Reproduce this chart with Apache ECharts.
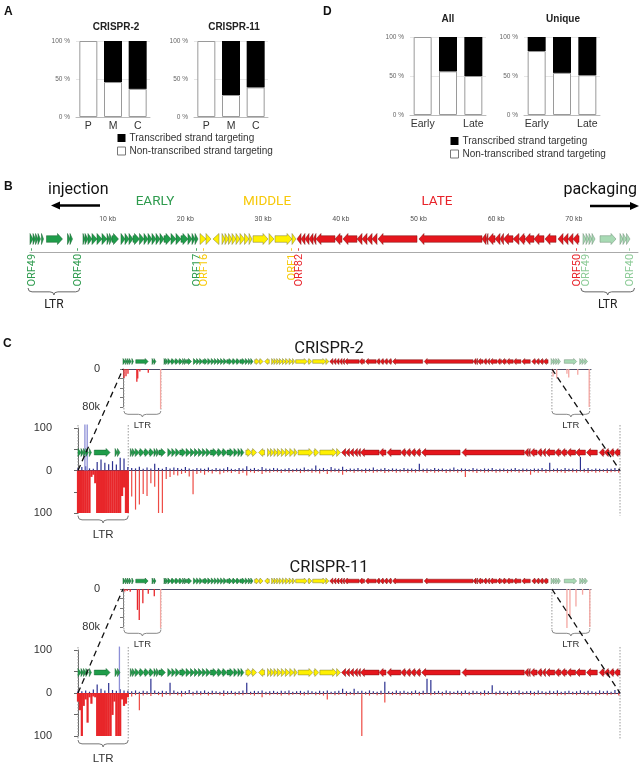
<!DOCTYPE html>
<html><head><meta charset="utf-8">
<script src="https://cdn.jsdelivr.net/npm/echarts@6/dist/echarts.min.js"></script>
<style>html,body{margin:0;padding:0;background:#fff}#c{width:642px;height:765px}</style>
</head><body><div id="c"></div>
<script>
// ---------------- DATA ----------------
const catA = ['P', 'M', 'C'];
const crispr2Non = [100, 46, 37];
const crispr2Trans = [0, 54, 63];
const crispr11Non = [100, 29, 39];
const crispr11Trans = [0, 71, 61];
const catD = ['Early', 'Middle', 'Late'];
const allNon = [100, 56, 50];
const allTrans = [0, 44, 50];
const uniqueNon = [82, 54, 51];
const uniqueTrans = [18, 46, 49];

// genes: [start kb, end kb, strand, class]  E=early M=middle L=late R=right LTR copy
const genes = [
[0.00,0.39,1,'E'],[0.39,0.71,1,'E'],[0.71,1.03,1,'E'],[1.03,1.35,1,'E'],[1.48,1.74,1,'E'],[2.12,4.18,1,'E'],[4.83,5.15,1,'E'],[5.15,5.47,1,'E'],
[6.82,7.08,1,'E'],[7.08,7.46,1,'E'],[7.46,7.98,1,'E'],[7.98,8.62,1,'E'],[8.62,9.27,1,'E'],[9.27,9.91,1,'E'],[9.91,10.23,1,'E'],[10.23,10.55,1,'E'],
[10.55,11.39,1,'E'],[11.71,12.23,1,'E'],[12.23,12.74,1,'E'],[12.74,13.26,1,'E'],[13.26,14.09,1,'E'],[14.09,14.67,1,'E'],[14.67,15.19,1,'E'],
[15.19,15.70,1,'E'],[15.70,16.22,1,'E'],[16.22,16.73,1,'E'],[16.73,17.25,1,'E'],[17.25,18.15,1,'E'],[18.15,18.79,1,'E'],[18.79,19.43,1,'E'],
[19.43,20.33,1,'E'],[20.33,20.85,1,'E'],[20.85,21.24,1,'E'],[21.24,21.62,1,'E'],
[21.88,22.65,1,'M'],[22.65,23.29,1,'M'],[23.55,24.32,-1,'M'],[24.71,25.10,1,'M'],[25.10,25.55,1,'M'],[25.55,26.00,1,'M'],[26.00,26.51,1,'M'],
[26.51,27.03,1,'M'],[27.03,27.61,1,'M'],[27.61,28.19,1,'M'],[28.19,28.57,1,'M'],[28.70,30.63,1,'M'],[30.76,31.40,1,'M'],[31.53,33.72,1,'M'],[33.72,34.23,1,'M'],
[34.36,34.88,-1,'L'],[34.88,35.39,-1,'L'],[35.39,35.91,-1,'L'],[35.91,36.42,-1,'L'],[36.42,36.81,-1,'L'],[36.81,39.25,-1,'L'],[39.25,40.15,-1,'L'],
[40.28,42.08,-1,'L'],[42.08,42.73,-1,'L'],[42.73,43.37,-1,'L'],[43.37,44.02,-1,'L'],[44.02,44.66,-1,'L'],[44.79,49.81,-1,'L'],[50.06,58.17,-1,'L'],
[58.17,58.69,-1,'L'],[58.69,58.94,-1,'L'],[58.94,59.85,-1,'L'],[59.85,60.49,-1,'L'],[60.49,60.94,-1,'L'],[60.94,62.16,-1,'L'],[62.16,62.93,-1,'L'],
[62.93,63.71,-1,'L'],[63.71,64.86,-1,'L'],[64.86,66.15,-1,'L'],[66.28,67.70,-1,'L'],[67.95,68.60,-1,'L'],[68.60,69.24,-1,'L'],[69.24,69.88,-1,'L'],[69.88,70.66,-1,'L'],
[71.17,71.56,1,'R'],[71.56,71.94,1,'R'],[71.94,72.33,1,'R'],[72.33,72.72,1,'R'],[73.36,75.42,1,'R'],[75.93,76.32,1,'R'],[76.32,76.77,1,'R'],[76.77,77.22,1,'R']
];
const orfLabels = [[0.25,'ORF49','E'],[6.2,'ORF40','E'],[21.5,'ORF17','E'],[22.4,'ORF16','M'],[33.8,'ORF1','M'],[34.7,'ORF82','L'],[70.4,'ORF50','L'],[71.6,'ORF49','R'],[77.2,'ORF40','R']];
const kbTicks = 10;

// coverage, 0.5 kb bins from 0 kb (main plots)
const c2Blue = [6,8,10,5,4,20,26,18,15,22,14,30,28,8,
6,5,9,4,7,5,16,6,4,8,5,7,6,4,8,5,3,6,
5,4,7,3,6,4,5,8,4,3,6,5,10,4,6,3,8,5,4,6,
5,3,4,6,3,5,4,7,3,5,12,4,6,3,8,5,4,9,3,5,
4,6,3,5,4,7,3,4,6,3,5,4,3,6,4,5,3,16,4,5,
3,6,4,5,3,4,7,3,5,4,3,6,4,3,5,4,6,3,4,5,
3,4,6,3,5,4,3,5,4,6,3,18,4,5,3,6,4,5,3,32,
4,6,3,5,4,3,5,4,6,3];
const c2Red = [0,0,0,0,0,0,0,0,0,0,0,0,0,0,
-61,-92,-80,-55,-60,-30,-38,-100,-100,-20,-15,-10,-12,-8,-6,-14,-56,-8,
-5,-10,-4,-7,-3,-9,-5,-4,-6,-3,-8,-5,-12,-4,-6,-3,-8,-4,-5,-3,
-4,-6,-3,-5,-4,-3,-6,-4,-3,-5,-4,-7,-3,-8,-4,-3,-5,-10,-4,-3,
-5,-3,-4,-6,-3,-5,-4,-3,-6,-4,-3,-5,-4,-3,-6,-4,-5,-3,-4,-6,
-3,-5,-4,-3,-6,-4,-3,-5,-4,-15,-3,-4,-6,-3,-5,-4,-3,-5,-4,-3,
-6,-4,-3,-5,-4,-3,-10,-4,-5,-3,-6,-4,-3,-5,-4,-6,-3,-4,-5,-3,
-4,-6,-3,-5,-4,-3,-6,-4,-3,-5];
// LTR region, 0.25 kb bins from 0 kb
const c2RedLtr = [-100,-100,-100,-100,-100,-100,-100,-15,-10,-30,-100,-100,-100,-100,-100,-100,-100,-100,-100,-100,-100,-100,-100,-60,-40,-100,-100];
const c2BluePeaks = [[0.9,108],[1.2,108]];
const c11Blue = [5,4,6,3,8,20,10,6,23,7,5,9,6,5,
4,6,3,5,4,33,6,3,5,4,24,6,3,5,4,7,3,5,
4,6,3,5,4,3,6,4,5,3,4,6,24,3,5,4,6,3,4,5,
3,5,4,6,3,4,5,3,6,4,3,5,4,6,3,4,5,10,4,3,
10,4,5,3,6,4,3,5,26,4,3,6,4,5,3,4,6,3,5,33,
30,4,5,3,6,4,3,5,4,6,3,5,4,3,6,4,18,3,5,4,
3,5,4,6,3,4,5,3,6,4,3,5,4,6,3,4,5,3,4,6,
3,5,4,3,6,4,5,3,7,4];
const c11Red = [0,0,0,0,0,0,0,0,0,0,0,0,0,0,
-8,-5,-40,-6,-4,-7,-3,-5,-9,-4,-6,-3,-5,-8,-4,-3,-6,-4,
-5,-3,-6,-4,-3,-5,-7,-4,-3,-6,-4,-5,-3,-4,-6,-3,-10,-4,-5,-3,
-4,-6,-3,-5,-4,-3,-5,-6,-4,-3,-5,-4,-6,-15,-3,-5,-4,-3,-6,-4,
-5,-3,-100,-4,-6,-3,-5,-4,-22,-3,-5,-4,-6,-3,-4,-5,-3,-6,-4,-3,
-5,-4,-3,-6,-4,-5,-3,-4,-6,-3,-5,-4,-3,-5,-6,-4,-3,-5,-4,-3,
-6,-4,-3,-5,-4,-3,-5,-6,-4,-3,-5,-4,-3,-6,-4,-5,-3,-4,-5,-3,
-4,-5,-3,-6,-4,-3,-5,-4,-3,-6];
const c11RedLtr = [-20,-40,-100,-30,-15,-69,-10,-25,-8,-10,-100,-100,-100,-100,-100,-100,-100,-100,-51,-20,-100,-100,-100,-15,-30,-25,-10];
const c11BluePeaks = [[5.4,108]];
// insets: [kb, reads in thousands]
const c2InsetLeft = [[0.17,19],[0.5,15],[0.83,10],[2.3,27],[2.45,20],[2.8,5],[4.2,8]];
const c2InsetPale = [[6.25,84],[71.5,16],[72.1,20],[73.8,10],[74.1,18],[75.6,12],[77.5,80]];
const c11InsetLeft = [[0.3,5],[0.7,4],[1.2,6],[2.4,44],[2.7,65],[3.3,30],[4.2,10],[5.2,15]];
const c11InsetPale = [[6.25,82],[73.8,82],[74.3,58],[75.3,37],[76.4,12],[77.6,80]];

const kbB = 78.25, kbMain = 70.66, kbInset = 77.8;
const ltrMain = [0, 6.55], ltrInsetL = [0.15, 6.3], ltrInsetR = [71.3, 77.6], ltrBL = [-0.25, 6.4], ltrBR = [70.9, 77.8];

// ---------------- CHART ----------------
const FS = 'Liberation Sans, Arial, sans-serif';
const FR = 'Roboto, sans-serif';
const geneFill = {E:'#1f9d4a', M:'#fff000', L:'#e5161d', R:'#a8dab4'};
const geneStroke = {E:'#15632f', M:'#7a7a40', L:'#7d1414', R:'#6f8f76'};
const textCol = {E:'#2e9b4e', M:'#f7c90a', L:'#e8232a', R:'#8ccb97'};

const chart = echarts.init(document.getElementById('c'), null, {width:642, height:765});

const grids = [
  {left:76, top:41, width:74, height:76},
  {left:194, top:41, width:74, height:76},
  {left:410, top:37, width:76, height:78},
  {left:524, top:37, width:76, height:78},
  {left:30, top:226, width:608, height:26},
  {left:123, top:369, width:468, height:38},
  {left:78, top:428, width:542, height:85},
  {left:123, top:589, width:468, height:38},
  {left:78, top:650, width:542, height:86}
];

const catAxis = (i, cats) => ({gridIndex:i, type:'category', data:cats, axisLine:{lineStyle:{color:'#bbb'}}, axisTick:{show:false},
  axisLabel:{fontSize:10.5, color:'#333', margin:4, fontFamily:FS}});
const pctAxis = i => ({gridIndex:i, type:'value', min:0, max:100, interval:50,
  axisLabel:{formatter:'{value} %', fontSize:6.5, color:'#666', margin:6, fontFamily:FS},
  splitLine:{lineStyle:{color:'#e6e6e6'}}, axisLine:{show:false}, axisTick:{show:false}});
const plainX = (i, max, col) => ({gridIndex:i, type:'value', min:0, max:max, axisLine:{show:true, onZero:true, lineStyle:{color:col, width:1}},
  axisTick:{show:false}, axisLabel:{show:false}, splitLine:{show:false}});

const xAxis = [catAxis(0,catA), catAxis(1,catA), catAxis(2,catD), catAxis(3,catD),
  {gridIndex:4, type:'value', position:'top', min:0, max:kbB, interval:kbTicks, axisLine:{lineStyle:{color:'#aaa'}}, axisTick:{show:false},
   axisLabel:{formatter: v => v + ' kb', fontSize:7, color:'#555', margin:3, showMinLabel:false, showMaxLabel:false, fontFamily:FR}, splitLine:{show:false}},
  plainX(5, kbInset, '#4a4a66'), plainX(6, kbMain, '#3c3c60'), plainX(7, kbInset, '#4a4a66'), plainX(8, kbMain, '#3c3c60')];

const mainY = i => ({gridIndex:i, type:'value', min:-100, max:100, interval:50, offset:23,
  axisLine:{show:true, lineStyle:{color:'#666'}}, axisTick:{show:true, length:4, lineStyle:{color:'#666'}},
  axisLabel:{formatter: v => Math.abs(v) === 100 ? '100' : (v === 0 ? '0' : ''), fontSize:11, color:'#333', margin:3, fontFamily:FS},
  splitLine:{show:false}});
const insetY = i => ({gridIndex:i, type:'value', min:0, max:80, interval:20, inverse:true, offset:21,
  axisLine:{show:true, lineStyle:{color:'#777'}}, axisTick:{show:true, length:3, lineStyle:{color:'#777'}},
  axisLabel:{formatter: v => v === 0 ? '0' : (v === 80 ? '80k' : ''), fontSize:11, color:'#333', margin:2, fontFamily:FS},
  splitLine:{show:false}});
const yAxis = [pctAxis(0), pctAxis(1), pctAxis(2), pctAxis(3),
  {gridIndex:4, type:'value', min:0, max:1, show:false},
  insetY(5), mainY(6), insetY(7), mainY(8)];

const N1 = 'Transcribed strand targeting', N2 = 'Non-transcribed strand targeting';
function stack(i, non, trans) {
  return [
    {type:'bar', name:N2, xAxisIndex:i, yAxisIndex:i, stack:'s'+i, data:non, barWidth:18, silent:true,
     itemStyle:{color:'#fff', borderColor:'#9a9a9a', borderWidth:1}},
    {type:'bar', name:N1, xAxisIndex:i, yAxisIndex:i, stack:'s'+i, data:trans, barWidth:18, silent:true,
     itemStyle:{color:'#000', borderWidth:0}}
  ];
}

function covSeries(i, data, color, wPx, wKb) {
  return {type:'custom', xAxisIndex:i, yAxisIndex:i, silent:true, z:2, data:data,
    renderItem: function(params, api) {
      const x = api.value(0), v = api.value(1);
      if (!v) return null;
      const p0 = api.coord([x, 0]), p1 = api.coord([x, v]);
      let w = wPx;
      if (wKb) w = api.coord([x + wKb, 0])[0] - p0[0] + 0.3;
      return {type:'rect', shape:{x:p0[0] - w / 2, y:Math.min(p0[1], p1[1]), width:w, height:Math.abs(p1[1] - p0[1])},
        style:{fill:color}};
    }};
}
const toPairs = (arr, step) => arr.map((v, k) => [k * step, v]);

function geneSeries(i, list, yv, off, H, hl0) {
  return {type:'custom', xAxisIndex:i, yAxisIndex:i, silent:true, z:6, data:list.map(g => [g[0], g[1]]),
    renderItem: function(params, api) {
      const g = list[params.dataIndex];
      const a = api.coord([g[0], yv]), b = api.coord([g[1], yv]);
      const cy = a[1] - off, x1 = a[0], x2 = b[0];
      const hh = H / 2, bh = H * 0.3, w = x2 - x1;
      let pts;
      if (g[2] > 0) {
        if (w <= hl0 * 1.2) pts = [[x1, cy - hh], [x2, cy], [x1, cy + hh]];
        else pts = [[x1, cy - bh], [x2 - hl0, cy - bh], [x2 - hl0, cy - hh], [x2, cy], [x2 - hl0, cy + hh], [x2 - hl0, cy + bh], [x1, cy + bh]];
      } else {
        if (w <= hl0 * 1.2) pts = [[x2, cy - hh], [x1, cy], [x2, cy + hh]];
        else pts = [[x2, cy - bh], [x1 + hl0, cy - bh], [x1 + hl0, cy - hh], [x1, cy], [x1 + hl0, cy + hh], [x1 + hl0, cy + bh], [x2, cy + bh]];
      }
      return {type:'polygon', shape:{points:pts}, style:{fill:geneFill[g[3]], stroke:geneStroke[g[3]], lineWidth:0.5}};
    }};
}
const mainGenes = genes.filter(g => g[3] !== 'R');

const series = [].concat(
  stack(0, crispr2Non, crispr2Trans), stack(1, crispr11Non, crispr11Trans),
  stack(2, allNon, allTrans), stack(3, uniqueNon, uniqueTrans),
  [geneSeries(4, genes, 0.5, 0, 11, 5),
   covSeries(5, c2InsetLeft, '#e8262a', 1.3), covSeries(5, c2InsetPale, '#f4a7a2', 1.3), geneSeries(5, genes, 0, 7.5, 6, 3),
   covSeries(6, toPairs(c2Blue, 0.5), '#2b3090', 1.2), covSeries(6, toPairs(c2Red, 0.5), '#ee4a44', 1.2),
   covSeries(6, toPairs(c2RedLtr, 0.25), '#e8262a', null, 0.25), covSeries(6, c2BluePeaks, '#8c8fd6', 1.3),
   geneSeries(6, mainGenes, 0, 18, 8, 4),
   covSeries(7, c11InsetLeft, '#e8262a', 1.3), covSeries(7, c11InsetPale, '#f4a7a2', 1.3), geneSeries(7, genes, 0, 8, 6, 3),
   covSeries(8, toPairs(c11Blue, 0.5), '#2b3090', 1.2), covSeries(8, toPairs(c11Red, 0.5), '#ee4a44', 1.2),
   covSeries(8, toPairs(c11RedLtr, 0.25), '#e8262a', null, 0.25), covSeries(8, c11BluePeaks, '#8c8fd6', 1.3),
   geneSeries(8, mainGenes, 0, 20.5, 8, 4)]
);

const legendData = [{name:N1, itemStyle:{color:'#000'}}, {name:N2, itemStyle:{color:'#fff', borderColor:'#777', borderWidth:1}}];
const legendBase = {orient:'vertical', icon:'rect', itemWidth:8, itemHeight:8, itemGap:3, selectedMode:false,
  textStyle:{fontSize:10, color:'#333', fontFamily:FS, padding:[0,0,0,-1]}, data:legendData};

chart.setOption({
  animation:false,
  backgroundColor:'#fff',
  grid:grids, xAxis:xAxis, yAxis:yAxis, series:series,
  legend:[Object.assign({left:112, top:128}, legendBase), Object.assign({left:445, top:131}, legendBase)]
});

// ---------------- ANNOTATIONS ----------------
const P = (g, x, y) => chart.convertToPixel({gridIndex:g}, [x, y]);
const G = [];
const txt = (x, y, s, o) => G.push(Object.assign({type:'text', x:x, y:y, silent:true,
  style:Object.assign({text:s, fill:'#222', font:'12px ' + FS, align:'center', verticalAlign:'middle'}, o || {})}));
const bez = (x1, y1, cx, cy, x2, y2, col, lw) => G.push({type:'bezierCurve', silent:true,
  shape:{x1:x1, y1:y1, cpx1:cx, cpy1:cy, x2:x2, y2:y2}, style:{stroke:col, lineWidth:lw, fill:null}});
const ln = (x1, y1, x2, y2, col, lw, dash, z) => G.push({type:'line', silent:true, z:z || 1, shape:{x1:x1, y1:y1, x2:x2, y2:y2},
  style:{stroke:col, lineWidth:lw, lineDash:dash || null}});
function brace(x1, x2, y, h, col, lw) {
  col = col || '#777'; lw = lw || 1;
  const m = (x1 + x2) / 2, r = Math.min(4, (x2 - x1) / 6), hm = y + h * 0.55;
  bez(x1, y, x1, hm, x1 + r, hm, col, lw);
  ln(x1 + r, hm, m - r, hm, col, lw);
  bez(m - r, hm, m, hm, m, y + h, col, lw);
  bez(m, y + h, m, hm, m + r, hm, col, lw);
  ln(m + r, hm, x2 - r, hm, col, lw);
  bez(x2 - r, hm, x2, hm, x2, y, col, lw);
}
const vline = (x, y1, y2) => ln(x, y1, x, y2, '#999', 1, [1.5, 1.5]);
const seg = (a, b) => ln(a[0], a[1], b[0], b[1], '#111', 1.3, [6, 4], 10);

// panel letters
txt(4, 12, 'A', {font:'bold 12px ' + FS, align:'left', fill:'#111'});
txt(323, 12, 'D', {font:'bold 12px ' + FS, align:'left', fill:'#111'});
txt(4, 187, 'B', {font:'bold 12px ' + FS, align:'left', fill:'#111'});
txt(3, 344, 'C', {font:'bold 12px ' + FS, align:'left', fill:'#111'});
// bar chart titles
txt(116, 27, 'CRISPR-2', {font:'bold 10px ' + FS});
txt(234, 27, 'CRISPR-11', {font:'bold 10px ' + FS});
txt(448, 19, 'All', {font:'bold 10px ' + FS});
txt(563, 19, 'Unique', {font:'bold 10px ' + FS});

// panel B texts
txt(48, 190, 'injection', {font:'16px ' + FR, align:'left', fill:'#111'});
txt(637, 190, 'packaging', {font:'16px ' + FR, align:'right', fill:'#111'});
ln(100, 205.5, 58, 205.5, '#000', 2.5);
G.push({type:'polygon', silent:true, shape:{points:[[51, 205.5], [60, 201.5], [60, 209.5]]}, style:{fill:'#000'}});
ln(590, 206, 631, 206, '#000', 2.5);
G.push({type:'polygon', silent:true, shape:{points:[[639, 206], [630, 202], [630, 210]]}, style:{fill:'#000'}});
txt(155, 202, 'EARLY', {font:'13.5px ' + FR, fill:textCol.E});
txt(267, 202, 'MIDDLE', {font:'13.5px ' + FR, fill:textCol.M});
txt(437, 202, 'LATE', {font:'13.5px ' + FR, fill:textCol.L});
orfLabels.forEach(o => {
  const p = P(4, o[0], 0);
  G.push({type:'text', silent:true, x:p[0], y:248, rotation:Math.PI / 2,
    style:{text:o[1] + ' -', fill:textCol[o[2]], font:'11px ' + FR, align:'right', verticalAlign:'middle'}});
});
[ltrBL, ltrBR].forEach(r => {
  const a = P(4, r[0], 0)[0], b = P(4, r[1], 0)[0];
  brace(a, b, 288, 7, '#666', 1);
  txt((a + b) / 2, 305, 'LTR', {font:'12px ' + FR, fill:'#222'});
});

// panel C
function panelC(gi, gm, title, ty, braceInsetY, braceMainY) {
  txt(329, ty, title, {font:'16.5px ' + FR, fill:'#1a1a1a'});
  [ltrInsetL, ltrInsetR].forEach(r => {
    const a = P(gi, r[0], 0), b = P(gi, r[1], 0);
    const yb = P(gi, 0, 88)[1];
    vline(a[0], a[1], yb); vline(b[0], b[1], yb);
    brace(a[0], b[0], braceInsetY, 6, '#888', 1);
    txt((a[0] + b[0]) / 2, braceInsetY + 14, 'LTR', {font:'9.5px ' + FS, fill:'#333'});
  });
  const yt = P(gm, 0, 107)[1], ybm = P(gm, 0, -106)[1];
  [ltrMain[0], ltrMain[1], kbMain].forEach(k => vline(P(gm, k, 0)[0], yt, ybm));
  const a = P(gm, ltrMain[0], 0)[0], b = P(gm, ltrMain[1], 0)[0];
  brace(a, b, braceMainY, 7, '#777', 1);
  txt((a + b) / 2, braceMainY + 19, 'LTR', {font:'11.5px ' + FS, fill:'#333'});
  seg(P(gm, 0, 0), P(gi, 0, 0));
  seg(P(gi, ltrInsetR[0], 0), P(gm, kbMain, 0));
}
panelC(5, 6, 'CRISPR-2', 349, 411, 516);
panelC(7, 8, 'CRISPR-11', 568, 630, 740);

chart.setOption({graphic:G});
</script></body></html>
